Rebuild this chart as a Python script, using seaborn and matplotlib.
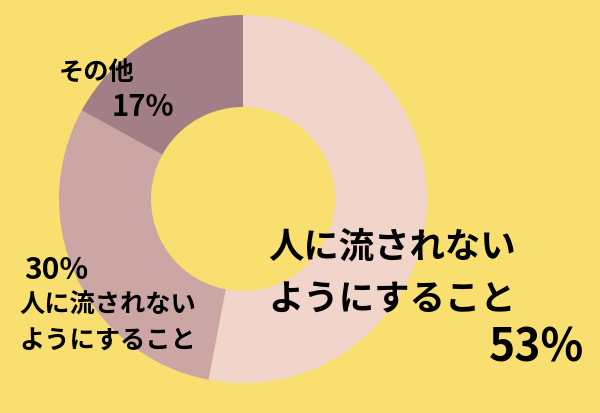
import matplotlib
matplotlib.use("Agg")
import matplotlib.pyplot as plt
import seaborn as sns

categories = ["人に流されない\nようにすること", "人に流されない\nようにすること", "その他"]
values = [53, 30, 17]
pct_labels = ["53%", "30%", "17%"]
colors = ["#F1D5CB", "#CCA6A5", "#A27E87"]
bg = "#F8DF70"

sns.set_theme(style="white")
plt.rcParams['font.family'] = ['Noto Sans CJK JP', 'DejaVu Sans']

fig = plt.figure(figsize=(6.0, 4.13), dpi=100, facecolor=bg)
ax = fig.add_axes([0, 0, 1, 1])
ax.set_facecolor(bg)

W, H = 600, 413
cx, cy, r = 243, H - 199, 184
ax.pie(values, colors=colors, startangle=90, counterclock=False,
       center=(cx, cy), radius=r,
       wedgeprops=dict(width=r - 92, linewidth=0))
ax.set_xlim(0, W)
ax.set_ylim(0, H)
ax.set_aspect('equal')
ax.axis('off')

def t(x, y, s, size, weight='bold', ha='left'):
    ax.text(x, H - y, s, fontsize=size, fontweight=weight, ha=ha, va='center', color='black')

# large slice
lines0 = categories[0].split("\n")
t(268, 247, lines0[0], 25.5)
t(268, 300, lines0[1], 25.5)
t(584, 349, pct_labels[0], 32, ha='right')
# 30% slice
lines1 = categories[1].split("\n")
t(24, 270, pct_labels[1], 21.5)
t(19, 305, lines1[0], 18.2)
t(19, 340, lines1[1], 18.2)
# other
t(59, 72, categories[2], 18.2)
t(112, 107, pct_labels[2], 21)

fig.savefig("out.png", dpi=100, facecolor=bg)
